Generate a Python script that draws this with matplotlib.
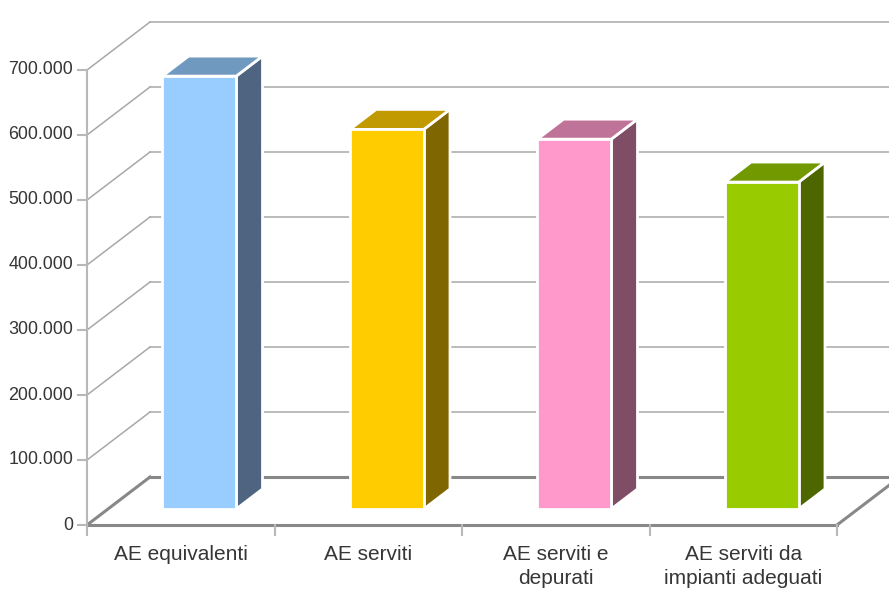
import matplotlib
matplotlib.use("Agg")
import matplotlib.pyplot as plt
from matplotlib.patches import Polygon
from matplotlib.lines import Line2D
from matplotlib.transforms import IdentityTransform

# --- data -------------------------------------------------------------
categories = ["AE equivalenti", "AE serviti", "AE serviti e\ndepurati",
              "AE serviti da\nimpianti adeguati"]
values = [666000, 584000, 569000, 503000]
front_colors = ["#99CCFF", "#FFCC00", "#FF99CC", "#99CC00"]
top_colors = ["#7099C0", "#C09A00", "#C07399", "#739900"]
side_colors = ["#4F6480", "#806600", "#804D66", "#4D6600"]
y_ticks = [0, 100000, 200000, 300000, 400000, 500000, 600000, 700000]
y_tick_labels = ["0", "100.000", "200.000", "300.000", "400.000",
                 "500.000", "600.000", "700.000"]

plt.rcParams["font.family"] = ["Liberation Sans", "DejaVu Sans"]

W, H = 889, 590
fig = plt.figure(figsize=(W / 100, H / 100), dpi=100)
ax = fig.add_axes([87 / W, (H - 525) / H, (837 - 87) / W, (525 - 70) / H])
ax.set_xlim(0, len(categories))
ax.set_ylim(0, y_ticks[-1])
ax.axis("off")

# oblique depth of the plot box, in pixels
DX, DY = 63, 48
ident = IdentityTransform()


def P(x, v, d=0.0):
    """Project (category x, value v, depth d in 0..1) to display pixels."""
    px, py = ax.transData.transform((x, v))
    return (px + DX * d, py + DY * d)


def seg(p0, p1, **kw):
    ax.add_line(Line2D([p0[0], p1[0]], [p0[1], p1[1]], transform=ident,
                       clip_on=False, **kw))


n = len(categories)
grid_col = "#a8a8a8"
floor_col = "#888888"
axis_col = "#b8b8b8"
text_col = "#363636"

# back wall and left wall gridlines
for v in y_ticks[1:]:
    seg(P(0, v, 1), P(n, v, 1), color=grid_col, lw=1.1, zorder=1)
    seg(P(0, v, 0), P(0, v, 1), color=grid_col, lw=1.1, zorder=1)

# floor outline
seg(P(0, 0, 1), P(n, 0, 1), color=floor_col, lw=2.2, zorder=2)
seg(P(0, 0, 0), P(0, 0, 1), color=floor_col, lw=2.2, zorder=2)
seg(P(n, 0, 0), P(n, 0, 1), color=floor_col, lw=2.2, zorder=2)
seg(P(0, 0, 0), P(n, 0, 0), color=floor_col, lw=2.2, zorder=2)

# front value axis with ticks and labels
seg(P(0, 0, 0), P(0, y_ticks[-1], 0), color=axis_col, lw=1.5, zorder=3)
for v, lab in zip(y_ticks, y_tick_labels):
    x0, y0 = P(0, v, 0)
    seg((x0 - 9, y0), (x0, y0), color=axis_col, lw=1.5, zorder=3)
    ax.text(x0 - 14, y0, lab, transform=ident, ha="right", va="center",
            fontsize=12.9, color=text_col)

# category ticks and labels
for i in range(n + 1):
    x0, y0 = P(i, 0, 0)
    seg((x0, y0), (x0, y0 - 10), color=axis_col, lw=1.5, zorder=3)
for i, lab in enumerate(categories):
    x0, y0 = P(i + 0.5, 0, 0)
    ax.text(x0, y0 - 20, lab, transform=ident, ha="center", va="top",
            fontsize=15, color=text_col, linespacing=1.36)

# 3D bars
half = 0.197
offset = -0.013
d0, d1 = 1 / 3, 0.75
for i, v in enumerate(values):
    xc = i + 0.5 + offset
    xl, xr = xc - half, xc + half
    faces = [
        ([P(xr, 0, d0), P(xr, 0, d1), P(xr, v, d1), P(xr, v, d0)], side_colors[i]),
        ([P(xl, v, d0), P(xr, v, d0), P(xr, v, d1), P(xl, v, d1)], top_colors[i]),
        ([P(xl, 0, d0), P(xr, 0, d0), P(xr, v, d0), P(xl, v, d0)], front_colors[i]),
    ]
    for pts, col in faces:
        ax.add_patch(Polygon(pts, closed=True, transform=ident, clip_on=False,
                             facecolor=col, edgecolor="white", lw=2,
                             joinstyle="miter", zorder=5))

fig.savefig("out.png", dpi=100)
